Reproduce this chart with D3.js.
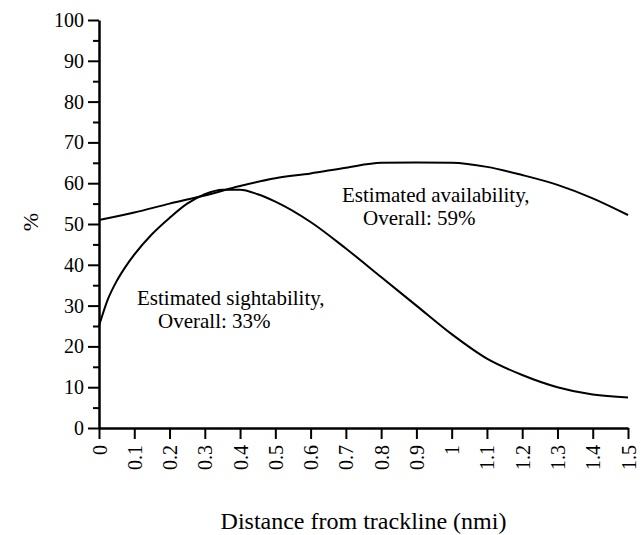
<!DOCTYPE html>
<html>
<head>
<meta charset="utf-8">
<script src="https://cdn.jsdelivr.net/npm/d3@7"></script>
<style>
  body { margin: 0; background: #fff; }
  svg text { font-family: "Liberation Serif", "Times New Roman", Times, "DejaVu Serif", serif; fill: #000; }
</style>
</head>
<body>
<div id="chart"></div>
<script>
// values
const availDist = [0, 0.1, 0.2, 0.3, 0.4, 0.5, 0.6, 0.7, 0.8, 0.9, 1.0, 1.1, 1.2, 1.3, 1.4, 1.5];
const availability = [51, 52.8, 55, 57, 59.3, 61.2, 62.4, 63.8, 65, 65.1, 65, 64, 62, 59.6, 56.3, 52.2];

const sightDist = [0, 0.025, 0.05, 0.075, 0.1, 0.15, 0.2, 0.25, 0.3, 0.35, 0.4, 0.45, 0.5, 0.6, 0.7, 0.8, 0.9, 1.0, 1.1, 1.2, 1.3, 1.4, 1.5];
const sightability = [25, 31.5, 36, 39.5, 42.5, 47.5, 51.5, 55, 57.3, 58.4, 58.4, 57.3, 55.5, 50.5, 44, 37, 30, 23, 17, 13, 10, 8.2, 7.5];

const xTicks = [0, 0.1, 0.2, 0.3, 0.4, 0.5, 0.6, 0.7, 0.8, 0.9, 1, 1.1, 1.2, 1.3, 1.4, 1.5];
const yTicks = [0, 10, 20, 30, 40, 50, 60, 70, 80, 90, 100];
const yMinor = [5, 15, 25, 35, 45, 55, 65, 75, 85, 95];

const width = 641,
  height = 535,
  serif = '"Liberation Serif", "Times New Roman", Times, "DejaVu Serif", serif';

let svg = d3
  .select("#chart")
  .append("svg")
  .attr("width", width)
  .attr("height", height)
  .attr("font-family", serif);

let x = d3.scaleLinear().domain([0, 1.5]).range([99, 628]);
let y = d3.scaleLinear().domain([0, 100]).range([428, 20]);

// y axis, major + minor ticks
let yAxis = svg
  .append("g")
  .attr("transform", `translate(${x(0)},0)`)
  .call(d3.axisLeft(y).tickValues(yTicks).tickSize(11).tickSizeOuter(0).tickPadding(4))
  .attr("font-family", serif);
yAxis.select(".domain").attr("stroke-width", 2.5);
yAxis.selectAll(".tick line").attr("stroke-width", 2);
yAxis.selectAll(".tick text").style("font-size", "20px");

svg
  .append("g")
  .attr("transform", `translate(${x(0)},0)`)
  .call(d3.axisLeft(y).tickValues(yMinor).tickSize(6).tickFormat(""))
  .call((g) => g.select(".domain").remove())
  .selectAll(".tick line")
  .attr("stroke-width", 2);

// x axis with rotated labels
let xAxis = svg
  .append("g")
  .attr("transform", `translate(0,${y(0)})`)
  .call(
    d3
      .axisBottom(x)
      .tickValues(xTicks)
      .tickSize(11)
      .tickSizeOuter(0)
      .tickFormat((d) => String(+d.toFixed(1)))
  )
  .attr("font-family", serif);
xAxis.select(".domain").attr("stroke-width", 2.5);
xAxis.selectAll(".tick line").attr("stroke-width", 2);
xAxis
  .selectAll(".tick text")
  .style("font-size", "20px")
  .attr("transform", "rotate(-90)")
  .attr("x", -17)
  .attr("y", 0)
  .attr("dy", "0.35em")
  .style("text-anchor", "end");

// curves
let line = d3
  .line()
  .x((d) => x(d[0]))
  .y((d) => y(d[1]))
  .curve(d3.curveMonotoneX);

svg
  .append("path")
  .datum(availDist.map((d, i) => [d, availability[i]]))
  .attr("d", line)
  .attr("fill", "none")
  .attr("stroke", "#000")
  .attr("stroke-width", 2);

svg
  .append("path")
  .datum(sightDist.map((d, i) => [d, sightability[i]]))
  .attr("d", line)
  .attr("fill", "none")
  .attr("stroke", "#000")
  .attr("stroke-width", 2);

// annotations, two lines each
function note(x0, y0, lines, indent) {
  let t = svg.append("text").style("font-size", "21px");
  t.append("tspan").attr("x", x0).attr("y", y0).text(lines[0]);
  t.append("tspan").attr("x", x0 + indent).attr("y", y0 + 23).text(lines[1]);
}
note(342, 202, ["Estimated availability,", "Overall: 59%"], 21);
note(137, 305, ["Estimated sightability,", "Overall: 33%"], 21);

// axis titles
svg
  .append("text")
  .attr("x", (x(0) + x(1.5)) / 2)
  .attr("y", 529)
  .style("font-size", "24px")
  .style("text-anchor", "middle")
  .text("Distance from trackline (nmi)");

svg
  .append("text")
  .attr("transform", "translate(30,222) rotate(-90)")
  .attr("dy", "0.35em")
  .style("font-size", "22px")
  .style("text-anchor", "middle")
  .text("%");
</script>
</body>
</html>
